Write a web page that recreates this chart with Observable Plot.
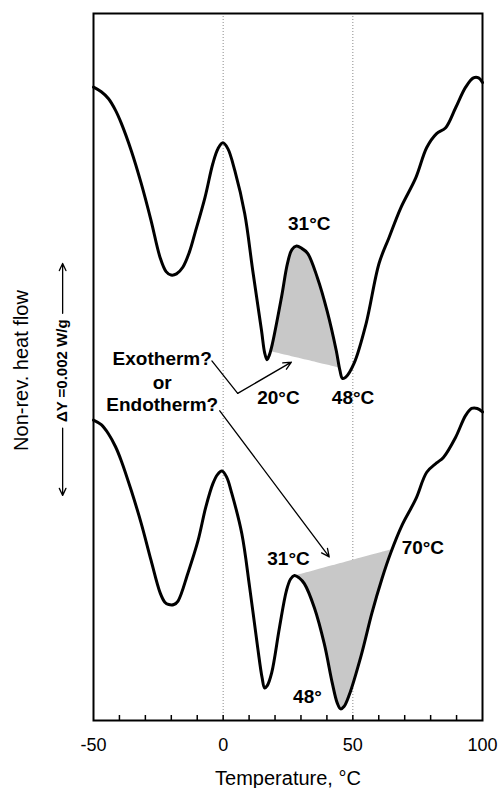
<!DOCTYPE html>
<html>
<head>
<meta charset="utf-8">
<script src="https://cdn.jsdelivr.net/npm/d3@7"></script>
<script src="https://cdn.jsdelivr.net/npm/@observablehq/plot@0.6"></script>
<style>
  html, body { margin: 0; padding: 0; background: #fff; }
  #chart { width: 498px; height: 788px; }
</style>
</head>
<body>
<div id="chart"></div>
<script>
// Non-reversing heat flow (mW/g, stacked with an arbitrary offset) vs temperature (°C)
const upperTemp = [-50, -47, -44.2, -41.5, -39.3, -35.4, -31.6, -27.8, -24.3, -22, -20.1, -18, -15.5, -13, -10.9, -7.0, -4.0, -2, -0.1, 1.8, 4.5, 8.3, 11.4, 14.8, 16.0, 16.9, 17.8, 19.0, 22.5, 24.8, 26.5, 28.3, 30.3, 32.5, 36.3, 40.1, 43.6, 45.0, 46.0, 47.3, 50.5, 55.1, 60.1, 63.9, 68.5, 74.3, 78.5, 82.3, 85.8, 89.6, 93.5, 96.5, 98.5, 100];
const upperFlow = [5.46, 5.42, 5.36, 5.26, 5.15, 4.91, 4.63, 4.31, 3.99, 3.87, 3.84, 3.85, 3.91, 4.04, 4.20, 4.51, 4.80, 4.93, 4.98, 4.93, 4.74, 4.37, 3.88, 3.36, 3.17, 3.11, 3.15, 3.25, 3.65, 3.94, 4.06, 4.09, 4.07, 4.03, 3.82, 3.53, 3.19, 3.02, 2.95, 2.96, 3.08, 3.42, 3.94, 4.16, 4.42, 4.68, 4.94, 5.06, 5.11, 5.28, 5.46, 5.54, 5.54, 5.50];

const lowerTemp = [-50, -47, -44.2, -41.5, -39.3, -35.4, -31.6, -27.8, -24.3, -22.5, -21.0, -19, -17.4, -13.6, -9.7, -6.7, -4.0, -2.2, -0.5, 1.3, 3.3, 7.2, 10.2, 13.3, 15.0, 16.0, 17.0, 18.7, 21.7, 24.4, 26, 27.5, 29.3, 31.3, 35.2, 39.0, 42.1, 44.0, 45.3, 46.6, 48.6, 53.2, 57.4, 61.2, 64.7, 68.9, 74.3, 78.5, 82.3, 85.0, 89.6, 93.5, 95.8, 98, 100];
const lowerFlow = [2.59, 2.55, 2.47, 2.36, 2.24, 1.98, 1.70, 1.38, 1.10, 1.02, 1.00, 1.00, 1.03, 1.27, 1.55, 1.84, 2.04, 2.12, 2.15, 2.10, 1.96, 1.61, 1.15, 0.63, 0.37, 0.28, 0.30, 0.41, 0.80, 1.12, 1.22, 1.25, 1.23, 1.18, 0.97, 0.66, 0.32, 0.15, 0.10, 0.12, 0.22, 0.56, 0.93, 1.22, 1.45, 1.68, 1.91, 2.14, 2.22, 2.27, 2.44, 2.63, 2.69, 2.69, 2.66];

// Straight baselines bounding the shaded areas: [temperature, flow]
const upperBaseStart = [18.3, 3.18];
const upperBaseEnd = [44.8, 3.04];
const lowerBaseStart = [28.3, 1.25];
const lowerBaseEnd = [64.7, 1.47];

// Axis ticks
const tickLabels = [-50, 0, 50, 100];
const minorTicks = [-40, -30, -20, -10, 0, 10, 20, 30, 40, 50, 60, 70, 80, 90];
const gridTemps = [0, 50];

// Annotations
const noteText = ["31°C", "20°C", "48°C", "Exotherm?", "or", "Endotherm?", "31°C", "70°C", "48°"];
const noteTemp = [33.2, 21.3, 50.1, -23.5, -23.5, -23.5, 25.2, 77.0, 32.5];
const noteFlow = [4.28, 2.78, 2.78, 3.12, 2.91, 2.72, 1.39, 1.49, 0.20];

// Pointer from "Exotherm?" (kinked) and from "Endotherm?" (straight)
const exoPathTemp = [-4.35, 5.6, 26.3];
const exoPathFlow = [3.10, 2.82, 3.09];
const endoPathTemp = [-1.3, 40.9];
const endoPathFlow = [2.67, 1.41];

// Vertical scale bar: 0.002 W/g = 2 mW/g, split around its label
const scaleBarTemp = -61.9;
const scaleBarLow = 1.94;
const scaleBarHigh = 3.94;
const scaleBarGapLow = 2.52;
const scaleBarGapHigh = 3.51;
const scaleBarText = "\u0394Y =0.002 W/g";

const toPoints = (T, F) => T.map((t, i) => ({t, f: F[i]}));
const upper = toPoints(upperTemp, upperFlow);
const lower = toPoints(lowerTemp, lowerFlow);

// Region between the curve and a straight chord joining two points
function chordRegion(points, [t1, f1], [t2, f2]) {
  const inner = points.filter(p => p.t > t1 && p.t < t2);
  return [{t: t1, f: f1}, ...inner, {t: t2, f: f2}]
    .map(p => ({t: p.t, f: p.f, base: f1 + (f2 - f1) * (p.t - t1) / (t2 - t1)}));
}
const upperShade = chordRegion(upper, upperBaseStart, upperBaseEnd);
const lowerShade = chordRegion(lower, lowerBaseStart, lowerBaseEnd);

const notes = noteText.map((s, i) => ({s, t: noteTemp[i], f: noteFlow[i]}));
const exoPath = toPoints(exoPathTemp, exoPathFlow);

const font = "'Liberation Sans', Arial, Helvetica, sans-serif";
const arrowStyle = {stroke: "black", strokeWidth: 1.3, headLength: 10, headAngle: 50};

const chart = Plot.plot({
  width: 498,
  height: 788,
  marginLeft: 93,
  marginRight: 16,
  marginTop: 13,
  marginBottom: 68,
  x: {domain: [-50, 100]},
  y: {domain: [0, 6.095], axis: null},
  style: {fontFamily: font, fontSize: "18px", color: "black", background: "white"},
  marks: [
    Plot.ruleX(gridTemps, {stroke: "#8a8a8a", strokeWidth: 1, strokeDasharray: "1 2"}),
    Plot.areaY(upperShade, {x: "t", y1: "base", y2: "f", fill: "#c8c8c8", curve: "catmull-rom"}),
    Plot.areaY(lowerShade, {x: "t", y1: "base", y2: "f", fill: "#c8c8c8", curve: "catmull-rom"}),
    Plot.line(upper, {x: "t", y: "f", stroke: "black", strokeWidth: 3, curve: "catmull-rom"}),
    Plot.line(lower, {x: "t", y: "f", stroke: "black", strokeWidth: 3, curve: "catmull-rom"}),
    Plot.tickX(minorTicks, {x: d => d, stroke: "black", strokeWidth: 1.5, insetTop: 702}),
    Plot.frame({stroke: "black", strokeWidth: 2}),
    Plot.axisX(tickLabels, {tickSize: 0, tickPadding: 18, label: null, tickFormat: d => String(d), fontSize: 18}),
    Plot.text(["Temperature, °C"], {frameAnchor: "bottom", dy: 58, lineAnchor: "middle", textAnchor: "middle", fontSize: 20}),
    Plot.text(["Non-rev. heat flow"], {frameAnchor: "left", dx: -72, dy: 3.5, rotate: -90, textAnchor: "middle", lineAnchor: "middle", fontSize: 20}),
    // scale bar
    Plot.arrow([0], {x1: scaleBarTemp, x2: scaleBarTemp, y1: scaleBarGapHigh, y2: scaleBarHigh, stroke: "black", strokeWidth: 1.3, headLength: 9, headAngle: 50}),
    Plot.arrow([0], {x1: scaleBarTemp, x2: scaleBarTemp, y1: scaleBarGapLow, y2: scaleBarLow, stroke: "black", strokeWidth: 1.3, headLength: 9, headAngle: 50}),
    Plot.text([scaleBarText], {x: scaleBarTemp, y: (scaleBarGapLow + scaleBarGapHigh) / 2, rotate: -90, textAnchor: "middle", lineAnchor: "middle", fontSize: 15, fontWeight: "bold"}),
    // pointers
    Plot.line(exoPath.slice(0, 2), {x: "t", y: "f", stroke: "black", strokeWidth: 1.3}),
    Plot.arrow([0], {x1: exoPathTemp[1], y1: exoPathFlow[1], x2: exoPathTemp[2], y2: exoPathFlow[2], ...arrowStyle}),
    Plot.arrow([0], {x1: endoPathTemp[0], y1: endoPathFlow[0], x2: endoPathTemp[1], y2: endoPathFlow[1], ...arrowStyle}),
    // annotation labels
    Plot.text(notes, {x: "t", y: "f", text: "s", fontSize: 19, fontWeight: "bold", lineAnchor: "middle"})
  ]
});
document.getElementById("chart").appendChild(chart);
</script>
</body>
</html>
